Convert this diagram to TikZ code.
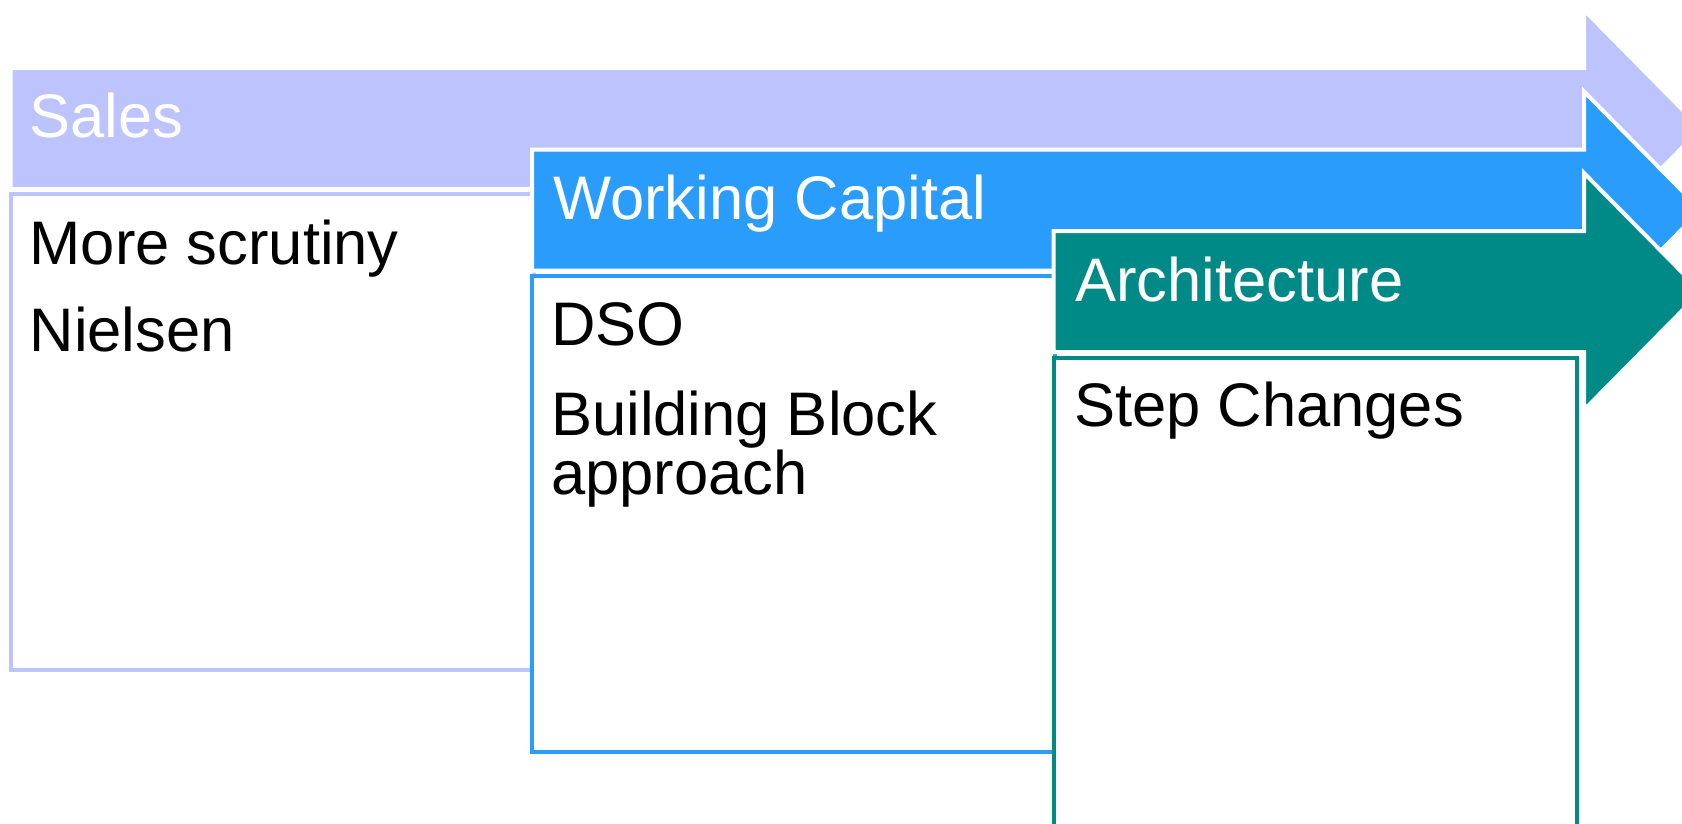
\documentclass[tikz,border=0pt]{standalone}
\usepackage{fontspec}
\setmainfont{Liberation Sans}
\definecolor{cSales}{RGB}{189,195,252}
\definecolor{cWC}{RGB}{41,156,252}
\definecolor{cArch}{RGB}{0,138,135}
\tikzset{
  arrowshape/.style={draw=white, line width=4pt, line join=miter},
  bodybox/.style={line width=4pt, fill=white},
  headtext/.style={anchor=base west, inner sep=0pt, text=white, font=\fontsize{61.5}{59}\selectfont},
  bodytext/.style={anchor=base west, inner sep=0pt, text=black, font=\fontsize{61.5}{59}\selectfont, align=left},
}
\begin{document}
\begin{tikzpicture}[x=1pt,y=-1pt]
\useasboundingbox (0,0) rectangle (1682,823);
\clip (0,0) rectangle (1682,823);
\fill[white] (0,0) rectangle (1682,823);
% Sales
\fill[cSales, arrowshape] (10.5,68) -- (1584,68) -- (1584,10) -- (1701,128.5) -- (1584,247) -- (1584,189) -- (10.5,189) -- cycle;
\draw[cSales, bodybox] (10.5,194) rectangle (533.5,670);
\node[headtext] (sales) at (29.5,137) {Sales};
\node[bodytext] (more) at (29.5,264) {More scrutiny};
\node[bodytext] (niel) at (29.5,351) {Nielsen};
% Working Capital
\fill[cWC, arrowshape] (532,149.5) -- (1584,149.5) -- (1584,91.5) -- (1701,210) -- (1584,328.5) -- (1584,270.5) -- (532,270.5) -- cycle;
\draw[cWC, bodybox] (532,276) rectangle (1055,752);
\node[headtext] (wc) at (553,219) {Working Capital};
\node[bodytext] (dso) at (551,345) {DSO};
\node[bodytext] (bba) at (551,494) {Building Block\\approach};
% Architecture
\fill[cArch, arrowshape] (1053.5,231) -- (1584,231) -- (1584,173) -- (1701,291.5) -- (1584,410) -- (1584,352) -- (1053.5,352) -- cycle;
\draw[cArch, bodybox] (1053.5,358) rectangle (1576.5,834);
\node[headtext] (arch) at (1075,301) {Architecture};
\node[bodytext] (step) at (1074,426) {Step Changes};
\end{tikzpicture}
\end{document}
